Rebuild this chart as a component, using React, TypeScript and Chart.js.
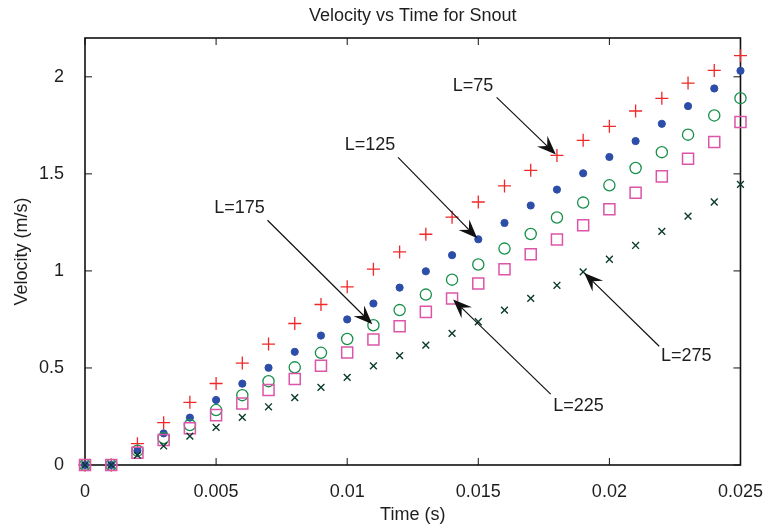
import { useEffect, useRef } from 'react';
import { Chart, registerables } from 'chart.js';

Chart.register(...registerables);

const TITLE = 'Velocity vs Time for Snout';
const X_LABEL = 'Time (s)';
const Y_LABEL = 'Velocity (m/s)';

const TIME = [
  0, 0.001, 0.002, 0.003, 0.004, 0.005, 0.006, 0.007, 0.008, 0.009, 0.01, 0.011, 0.012,
  0.013, 0.014, 0.015, 0.016, 0.017, 0.018, 0.019, 0.02, 0.021, 0.022, 0.023, 0.024, 0.025,
];

const L75 = [
  0, 0, 0.11, 0.218, 0.323, 0.42, 0.525, 0.623, 0.729, 0.827, 0.918, 1.009, 1.098,
  1.189, 1.277, 1.355, 1.438, 1.518, 1.595, 1.673, 1.745, 1.824, 1.889, 1.968, 2.033, 2.109,
];
const L125 = [
  0, 0, 0.074, 0.163, 0.244, 0.335, 0.419, 0.501, 0.583, 0.667, 0.75, 0.832, 0.914,
  0.998, 1.081, 1.163, 1.247, 1.337, 1.419, 1.503, 1.587, 1.669, 1.758, 1.849, 1.94, 2.031,
];
const L175 = [
  0, 0, 0.074, 0.139, 0.206, 0.283, 0.36, 0.432, 0.503, 0.578, 0.649, 0.72, 0.798,
  0.878, 0.955, 1.033, 1.115, 1.19, 1.275, 1.352, 1.441, 1.53, 1.612, 1.702, 1.801, 1.89,
];
const L225 = [
  0, 0, 0.063, 0.129, 0.189, 0.257, 0.317, 0.386, 0.443, 0.511, 0.58, 0.647, 0.715,
  0.789, 0.858, 0.935, 1.009, 1.086, 1.162, 1.235, 1.318, 1.403, 1.487, 1.578, 1.664, 1.767,
];
const L275 = [
  0, 0, 0.051, 0.098, 0.149, 0.194, 0.245, 0.3, 0.347, 0.4, 0.451, 0.511, 0.564,
  0.618, 0.678, 0.738, 0.798, 0.858, 0.926, 0.995, 1.06, 1.131, 1.204, 1.282, 1.355, 1.446,
];

const SERIES_VALUES = [L75, L125, L175, L225, L275];
const SERIES_NAMES = ['L=75', 'L=125', 'L=175', 'L=225', 'L=275'];

const X_TICKS = [0, 0.005, 0.01, 0.015, 0.02, 0.025];
const Y_TICKS = [0, 0.5, 1, 1.5, 2];
const X_RANGE = [0, 0.025];
const Y_RANGE = [0, 2.2];

// annotations: label, series index, point index, text anchor and arrow tail (data units)
const ANNOTATION_LABELS = ['L=75', 'L=125', 'L=175', 'L=225', 'L=275'];
const ANNOTATION_SERIES = [0, 1, 2, 3, 4];
const ANNOTATION_POINT = [18, 15, 11, 14, 19];
const ANNOTATION_TEXT_X = [0.0148, 0.01087, 0.00589, 0.01882, 0.02293];
const ANNOTATION_TEXT_Y = [1.951, 1.647, 1.323, 0.304, 0.561];
const ANNOTATION_TAIL_X = [0.0157, 0.01194, 0.00696, 0.01776, 0.0219];
const ANNOTATION_TAIL_Y = [1.894, 1.585, 1.261, 0.365, 0.612];

const FONT_FAMILY = '"Liberation Sans", Arial, Helvetica, sans-serif';
const TEXT_COLOR = '#1e1e1e';

const STYLES = [
  { pointStyle: 'cross', radius: 6.5, color: '#f02828', width: 1.3 },
  { pointStyle: 'circle', radius: 3.6, color: '#2d4ea8', width: 1, fill: true },
  { pointStyle: 'circle', radius: 5.6, color: '#17904a', width: 1.3 },
  { pointStyle: 'rect', radius: 7.8, color: '#dc55a8', width: 1.5 },
  { pointStyle: 'crossRot', radius: 4.8, color: '#0b3b2b', width: 1.4 },
];

const framePlugin = {
  id: 'frame',
  beforeDatasetsDraw(chart: any) {
    const { ctx, chartArea: a, scales } = chart;
    ctx.save();
    ctx.strokeStyle = '#111';
    ctx.lineWidth = 1.6;
    ctx.strokeRect(a.left, a.top, a.right - a.left, a.bottom - a.top);
    ctx.lineWidth = 1;
    const tl = 7;
    ctx.beginPath();
    for (const v of X_TICKS) {
      const px = scales.x.getPixelForValue(v);
      ctx.moveTo(px, a.bottom);
      ctx.lineTo(px, a.bottom - tl);
      ctx.moveTo(px, a.top);
      ctx.lineTo(px, a.top + tl);
    }
    for (const v of Y_TICKS) {
      const py = scales.y.getPixelForValue(v);
      ctx.moveTo(a.left, py);
      ctx.lineTo(a.left + tl, py);
      ctx.moveTo(a.right, py);
      ctx.lineTo(a.right - tl, py);
    }
    ctx.stroke();
    ctx.restore();
  },
};

const arrowPlugin = {
  id: 'arrows',
  afterDatasetsDraw(chart: any) {
    const { ctx, scales } = chart;
    const xs = scales.x;
    const ys = scales.y;
    ctx.save();
    ANNOTATION_LABELS.forEach((label, k) => {
      const s = ANNOTATION_SERIES[k];
      const i = ANNOTATION_POINT[k];
      const hx = xs.getPixelForValue(TIME[i]);
      const hy = ys.getPixelForValue(SERIES_VALUES[s][i]);
      const tx = xs.getPixelForValue(ANNOTATION_TAIL_X[k]);
      const ty = ys.getPixelForValue(ANNOTATION_TAIL_Y[k]);
      const dx = hx - tx;
      const dy = hy - ty;
      const len = Math.hypot(dx, dy);
      const ux = dx / len;
      const uy = dy / len;
      const nx = -uy;
      const ny = ux;
      const tipX = hx - ux * 1.5;
      const tipY = hy - uy * 1.5;
      const L = 19;
      const W = 7.5;
      const notch = 12;
      ctx.strokeStyle = '#111';
      ctx.lineWidth = 1.2;
      ctx.beginPath();
      ctx.moveTo(tx, ty);
      ctx.lineTo(tipX - ux * notch, tipY - uy * notch);
      ctx.stroke();
      ctx.fillStyle = '#111';
      ctx.beginPath();
      ctx.moveTo(tipX, tipY);
      ctx.lineTo(tipX - ux * L + nx * W, tipY - uy * L + ny * W);
      ctx.lineTo(tipX - ux * notch, tipY - uy * notch);
      ctx.lineTo(tipX - ux * L - nx * W, tipY - uy * L - ny * W);
      ctx.closePath();
      ctx.fill();
      ctx.font = `18px ${FONT_FAMILY}`;
      ctx.fillStyle = TEXT_COLOR;
      ctx.textAlign = 'center';
      ctx.textBaseline = 'middle';
      ctx.fillText(
        label,
        xs.getPixelForValue(ANNOTATION_TEXT_X[k]),
        ys.getPixelForValue(ANNOTATION_TEXT_Y[k])
      );
    });
    ctx.restore();
  },
};

export default function App() {
  const canvasRef = useRef<HTMLCanvasElement | null>(null);

  useEffect(() => {
    if (!canvasRef.current) return;
    const datasets = SERIES_VALUES.map((vals, s) => {
      const st = STYLES[s];
      return {
        label: SERIES_NAMES[s],
        data: TIME.map((t, i) => ({ x: t, y: vals[i] })),
        showLine: false,
        pointStyle: st.pointStyle,
        pointRadius: st.radius,
        pointBorderColor: st.color,
        pointBackgroundColor: st.fill ? st.color : 'rgba(0,0,0,0)',
        pointBorderWidth: st.width,
        borderColor: st.color,
        backgroundColor: st.fill ? st.color : 'rgba(0,0,0,0)',
        clip: false,
        order: 5 - s,
      };
    });

    const chart = new Chart(canvasRef.current, {
      type: 'scatter',
      data: { datasets } as any,
      options: {
        animation: false,
        responsive: true,
        maintainAspectRatio: false,
        layout: { padding: { left: 0, right: 27, top: 0, bottom: 0 } },
        events: [],
        plugins: {
          legend: { display: false },
          tooltip: { enabled: false },
          title: {
            display: true,
            text: TITLE,
            fullSize: false,
            color: TEXT_COLOR,
            font: { family: FONT_FAMILY, size: 18, weight: 'normal' },
            padding: { top: 5, bottom: 11.4 },
          },
        },
        scales: {
          x: {
            type: 'linear',
            min: X_RANGE[0],
            max: X_RANGE[1],
            afterBuildTicks: (scale: any) => {
              scale.ticks = X_TICKS.map((value) => ({ value }));
            },
            afterFit: (scale: any) => {
              scale.height = 64;
            },
            grid: { display: false },
            border: { display: false },
            ticks: {
              padding: 8,
              autoSkip: false,
              maxRotation: 0,
              color: TEXT_COLOR,
              font: { family: FONT_FAMILY, size: 18 },
              callback: (v: any) => String(v),
            },
            title: {
              display: true,
              text: X_LABEL,
              color: TEXT_COLOR,
              font: { family: FONT_FAMILY, size: 18 },
              padding: { top: 0, bottom: 3 },
            },
          },
          y: {
            type: 'linear',
            min: Y_RANGE[0],
            max: Y_RANGE[1],
            afterBuildTicks: (scale: any) => {
              scale.ticks = Y_TICKS.map((value) => ({ value }));
            },
            afterFit: (scale: any) => {
              scale.width = 85;
            },
            grid: { display: false },
            border: { display: false },
            ticks: {
              padding: 13,
              color: TEXT_COLOR,
              font: { family: FONT_FAMILY, size: 18 },
              callback: (v: any) => String(v),
            },
            title: {
              display: true,
              text: Y_LABEL,
              color: TEXT_COLOR,
              font: { family: FONT_FAMILY, size: 18 },
              padding: { top: 11, bottom: 0 },
            },
          },
        },
      } as any,
      plugins: [framePlugin, arrowPlugin],
    });
    return () => chart.destroy();
  }, []);

  return (
    <div style={{ position: 'fixed', left: 0, top: 0, width: 771, height: 529, background: '#fff' }}>
      <canvas ref={canvasRef} />
    </div>
  );
}
